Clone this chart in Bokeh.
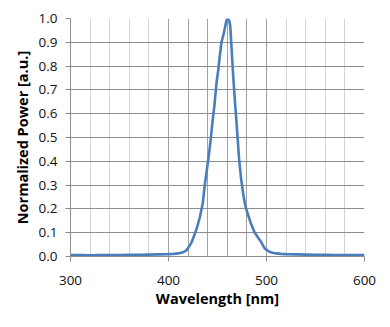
from bokeh.plotting import figure
from bokeh.models import Range1d, FixedTicker, SingleIntervalTicker, CustomJSTickFormatter
from bokeh.embed import file_html
from bokeh.resources import INLINE

wavelength = [300, 310, 320, 330, 340, 350, 360, 370, 380, 390, 400,
              405, 410, 415, 418, 420, 423, 426, 429, 432, 435, 437, 439,
              441, 443, 445, 447, 449, 451, 452, 454, 456, 458, 459, 460,
              461, 462, 463, 464, 465, 466, 467, 468, 470, 472, 474, 476,
              478, 480, 482, 484, 486, 488, 490, 492, 494, 496, 498, 500,
              503, 506, 510, 515, 520, 530, 540, 550, 560, 570, 580, 590, 600]
power = [0.006, 0.006, 0.005, 0.006, 0.006, 0.006, 0.007, 0.007, 0.008, 0.009, 0.010,
         0.011, 0.013, 0.018, 0.025, 0.035, 0.055, 0.085, 0.12, 0.165, 0.225, 0.30, 0.36,
         0.42, 0.49, 0.57, 0.64, 0.73, 0.79, 0.83, 0.90, 0.93, 0.97, 0.99, 1.0,
         0.995, 0.99, 0.97, 0.90, 0.83, 0.76, 0.70, 0.64, 0.53, 0.41, 0.33, 0.27,
         0.22, 0.19, 0.165, 0.14, 0.12, 0.10, 0.088, 0.075, 0.065, 0.05, 0.035, 0.028,
         0.02, 0.016, 0.013, 0.011, 0.010, 0.009, 0.008, 0.007, 0.007, 0.006, 0.006, 0.006, 0.006]

x_ticks = [300, 400, 500, 600]
x_grid_dark = [400, 420, 440, 460, 480, 500, 600]
x_grid_light = [320, 340, 360, 380, 520, 540, 560, 580]

FONT = "Open Sans"
GRID_DARK = "#8c8c8c"
GRID_MID = "#a0a0a0"
GRID_LIGHT = "#d4d4d4"

p = figure(width=390, height=327, output_backend="svg", toolbar_location=None,
           x_range=Range1d(300, 600), y_range=Range1d(0, 1.0),
           min_border_left=70, min_border_right=26, min_border_top=18, min_border_bottom=71)
p.outline_line_color = None
p.background_fill_color = "white"

p.line(wavelength, power, line_color="#4a7ebb", line_width=2.6)

p.xaxis.ticker = FixedTicker(ticks=x_ticks)
p.yaxis.ticker = SingleIntervalTicker(interval=0.1, num_minor_ticks=0)
p.yaxis.formatter = CustomJSTickFormatter(code="return tick.toFixed(1);")

p.xgrid.ticker = FixedTicker(ticks=x_grid_dark, minor_ticks=x_grid_light)
p.xgrid.grid_line_color = GRID_MID
p.xgrid.minor_grid_line_color = GRID_LIGHT
p.ygrid.grid_line_color = GRID_DARK

for ax in (p.xaxis, p.yaxis):
    ax.axis_line_color = GRID_DARK
    ax.major_tick_line_color = GRID_DARK
    ax.minor_tick_line_color = None
    ax.major_tick_in = 0
    ax.major_tick_out = 5
    ax.major_label_text_font = FONT
    ax.major_label_text_font_size = "13.5px"
    ax.major_label_text_color = "#111111"
    ax.axis_label_text_font = FONT
    ax.axis_label_text_font_size = "14.5px"
    ax.axis_label_text_font_style = "bold"
    ax.axis_label_text_color = "#000000"

p.xaxis.axis_label = "Wavelength [nm]"
p.yaxis.axis_label = "Normalized Power [a.u.]"
p.xaxis.major_label_standoff = 14
p.yaxis.major_label_standoff = 8
p.xaxis.axis_label_standoff = 1
p.yaxis.axis_label_standoff = 4

open("out.html", "w").write(file_html(p, INLINE))
